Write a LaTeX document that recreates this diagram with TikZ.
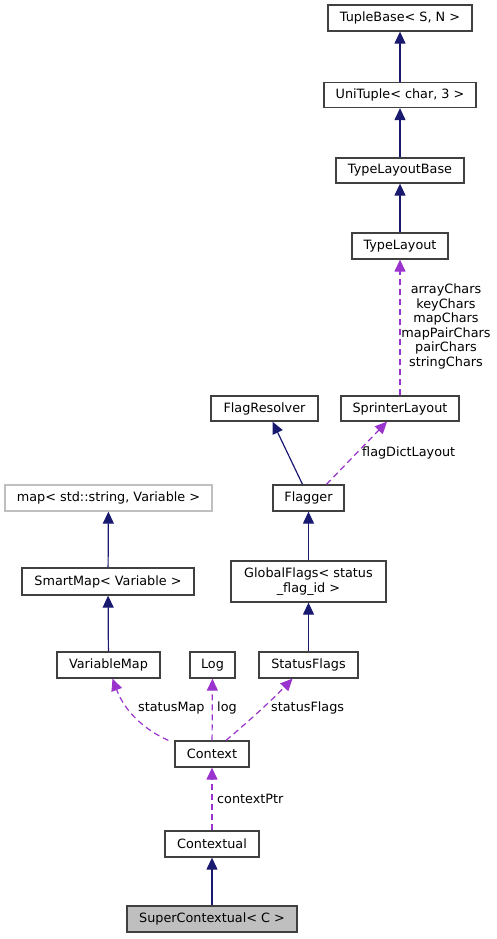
\documentclass[tikz,border=0pt]{standalone}
\usepackage{fontspec}
\setmainfont{DejaVu Sans}
\usetikzlibrary{arrows.meta}
\definecolor{edgeblue}{RGB}{25,25,112}
\definecolor{edgepurple}{RGB}{154,50,205}
\definecolor{boxborder}{RGB}{64,64,64}
\definecolor{lightborder}{RGB}{191,191,191}
\definecolor{selfill}{RGB}{191,191,191}
\begin{document}
\begin{tikzpicture}[x=1pt,y=-1pt,
  box/.style={draw=boxborder,line width=1.3pt,fill=white,inner sep=0pt,align=center,
    font=\fontsize{12.8}{14.6}\selectfont},
  extbox/.style={box,draw=lightborder},
  selbox/.style={box,fill=selfill},
  inh/.style={draw=edgeblue,line width=1.2pt,-{Triangle[length=12pt,width=11pt]},color=edgeblue},
  use/.style={draw=edgepurple,line width=1.2pt,dash pattern=on 6pt off 4pt,-{Triangle[length=12pt,width=11pt]},color=edgepurple},
  elabel/.style={font=\fontsize{12.8}{14.6}\selectfont,align=center,inner sep=0pt,text=black}
]
\useasboundingbox (0,0) rectangle (497,939);

\node[box,minimum width=144pt,minimum height=26pt] (tb) at (400,18) {TupleBase< S, N >};
\node[box,minimum width=152pt,minimum height=25pt] (ut) at (400,95) {UniTuple< char, 3 >};
\node[box,minimum width=128pt,minimum height=25pt] (tlb) at (400,170.5) {TypeLayoutBase};
\node[box,minimum width=96pt,minimum height=26pt] (tl) at (400,246) {TypeLayout};
\node[box,minimum width=107pt,minimum height=25pt] (fr) at (264.5,408.5) {FlagResolver};
\node[box,minimum width=118pt,minimum height=25pt] (sl) at (400,408.5) {SprinterLayout};
\node[box,minimum width=71pt,minimum height=26pt] (fl) at (308.5,498) {Flagger};
\node[extbox,minimum width=207pt,minimum height=26pt] (mp) at (108.5,498) {map< std::string, Variable >};
\node[box,minimum width=172pt,minimum height=27pt] (sm) at (108,581.5) {SmartMap< Variable >};
\node[box,minimum width=155pt,minimum height=41pt] (gf) at (308.5,581.5) {GlobalFlags< status\\\_flag\_id >};
\node[box,minimum width=103pt,minimum height=26pt] (vm) at (108.5,665) {VariableMap};
\node[box,minimum width=45pt,minimum height=26pt] (lg) at (212.5,665) {Log};
\node[box,minimum width=99pt,minimum height=26pt] (sf) at (308.5,665) {StatusFlags};
\node[box,minimum width=74pt,minimum height=26pt] (cx) at (212,754) {Context};
\node[box,minimum width=94pt,minimum height=26pt] (ctl) at (212,844) {Contextual};
\node[selbox,minimum width=170pt,minimum height=26pt] (sc) at (212,919) {SuperContextual< C >};

\draw[inh] (ut) -- (tb);
\draw[inh] (tlb) -- (ut);
\draw[inh] (tl) -- (tlb);
\draw[use] (sl) -- (tl);
\draw[inh] ([xshift=-6pt]fl.north) -- ([xshift=8pt]fr.south);
\draw[use] ([xshift=18pt]fl.north) -- ([xshift=-13pt]sl.south);
\draw[inh] (sm) -- (mp);
\draw[inh] (vm) -- (sm);
\draw[inh] (gf) -- (fl);
\draw[inh] (sf) -- (gf);
\draw[use] ([xshift=-6pt]cx.north west) .. controls (145,730) and (125,712) .. ([xshift=4pt]vm.south);
\draw[use] (cx) -- (lg);
\draw[use] ([xshift=14pt]cx.north) .. controls (248,722) and (272,700) .. ([xshift=-16pt]sf.south);
\draw[use] (ctl) -- (cx);
\draw[inh] (sc) -- (ctl);

\node[elabel] (l1) at (446,326.5) {arrayChars\\keyChars\\mapChars\\mapPairChars\\pairChars\\stringChars};
\node[elabel,anchor=west] (l2) at (362,453) {flagDictLayout};
\node[elabel,anchor=west] (l3) at (138,708) {statusMap};
\node[elabel,anchor=west] (l4) at (217,708) {log};
\node[elabel,anchor=west] (l5) at (271,708) {statusFlags};
\node[elabel,anchor=west] (l6) at (217,799) {contextPtr};
\end{tikzpicture}
\end{document}
